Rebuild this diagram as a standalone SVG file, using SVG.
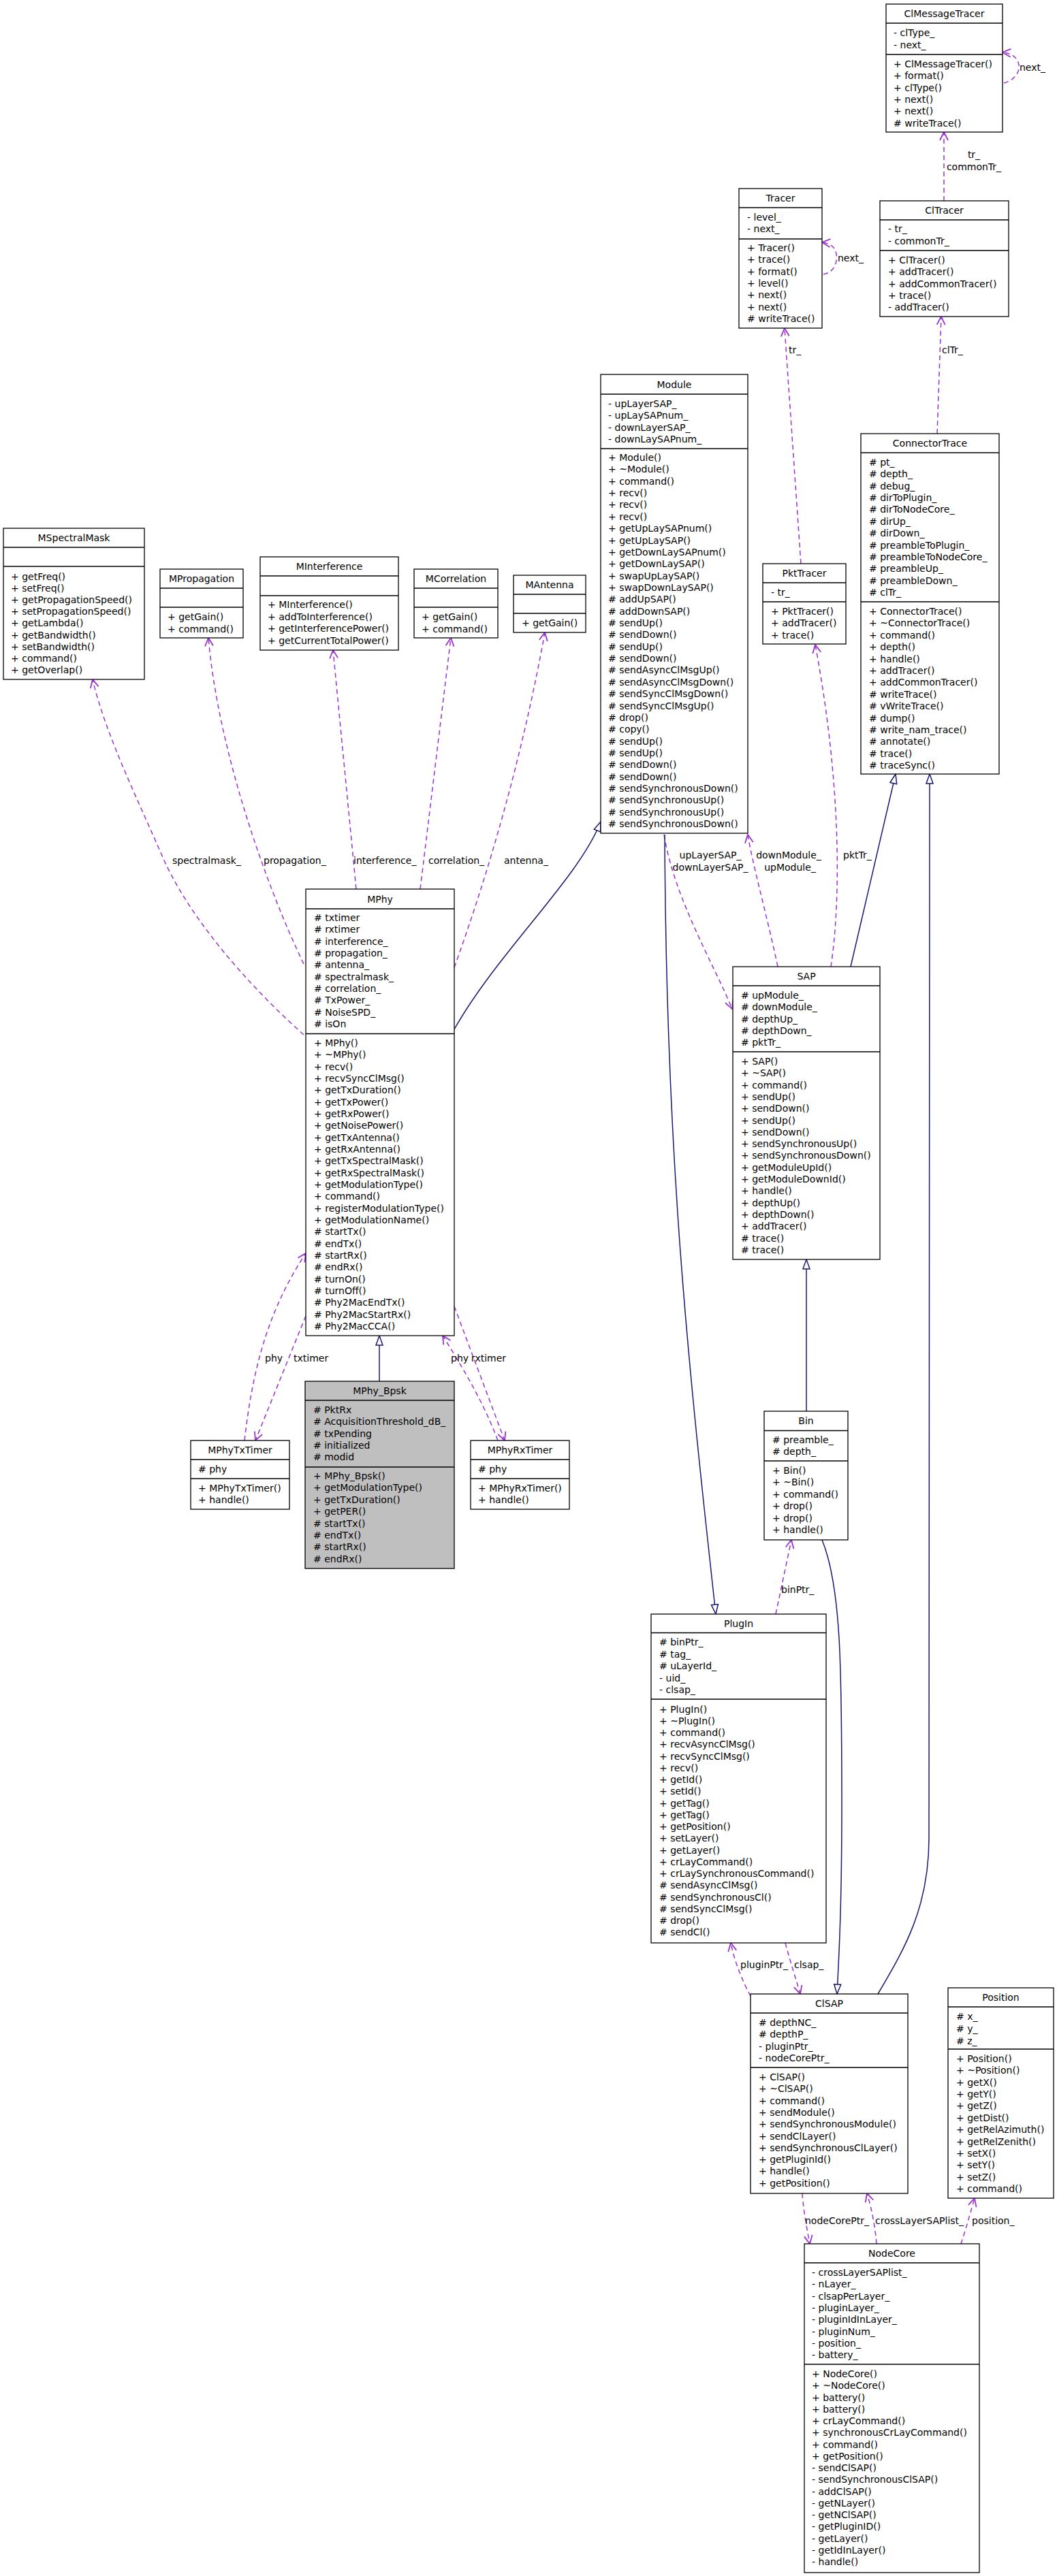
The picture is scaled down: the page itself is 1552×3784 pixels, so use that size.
<svg xmlns="http://www.w3.org/2000/svg" width="1552" height="3784" viewBox="0 0 1552 3784">
<style>
.b{fill:#fff;stroke:#000;stroke-width:1.3}
.g{fill:#bfbfbf;stroke:#000;stroke-width:1.3}
.d{stroke:#000;stroke-width:1.3;fill:none}
text{font-family:"DejaVu Sans",sans-serif;font-size:14px;fill:#000}
.c{text-anchor:middle}
.e{fill:none;stroke:#9a32cd;stroke-width:1.5;stroke-dasharray:7,5;marker-end:url(#v)}
.i{fill:none;stroke:#191970;stroke-width:1.5;marker-end:url(#t)}
</style>
<defs>
<marker id="v" markerUnits="userSpaceOnUse" markerWidth="16" markerHeight="14" refX="13" refY="7" orient="auto"><path d="M1,1 L13,7 L1,13" fill="none" stroke="#9a32cd" stroke-width="1.8"/></marker>
<marker id="t" markerUnits="userSpaceOnUse" markerWidth="18" markerHeight="14" refX="16" refY="7" orient="auto"><path d="M2,2 L16,7 L2,12 Z" fill="#fff" stroke="#191970" stroke-width="1.5"/></marker>
</defs>
<rect width="1552" height="3784" fill="#fff"/>

<g id="edges">
<path class="e" d="M1474,122 C1490,118 1498,105 1496,95 C1494,85 1486,78 1472,77"/>
<path class="e" d="M1386,295 L1386,194"/>
<path class="e" d="M1209,403 C1225,400 1230,385 1228,373 C1226,362 1218,357 1207,356"/>
<path class="e" d="M1176,828 L1152,482"/>
<path class="e" d="M1376,637 L1382,465"/>
<path class="e" d="M446,1520 C390,1470 290,1370 241,1264 C205,1180 155,1080 136,998"/>
<path class="e" d="M446,1416 C390,1300 320,1100 306,937"/>
<path class="e" d="M523,1306 L489,955"/>
<path class="e" d="M617,1306 L662,937"/>
<path class="e" d="M667,1421 C700,1330 760,1150 800,929"/>
<path class="e" d="M975,1226 C990,1320 1050,1420 1075,1482"/>
<path class="e" d="M1142,1420 C1125,1340 1105,1270 1098,1226"/>
<path class="e" d="M1220,1420 C1235,1320 1235,1150 1197,947"/>
<path class="i" d="M1249,1420 L1315,1137"/>
<path class="i" d="M1289,2929 C1330,2860 1364,2800 1364,2700 L1365,1137"/>
<path class="i" d="M667,1512 C730,1400 850,1290 882,1207"/>
<path class="i" d="M557,2029 L557,1962"/>
<path class="e" d="M359,2116 C370,2020 390,1930 449,1841"/>
<path class="e" d="M449,1933 L375,2116"/>
<path class="e" d="M731,2116 C710,2060 680,2010 650,1962"/>
<path class="e" d="M667,1919 L741,2116"/>
<path class="i" d="M1184,2073 L1184,1850"/>
<path class="i" d="M976,1226 C978,1700 1010,2000 1051,2371"/>
<path class="i" d="M1207,2262 C1235,2330 1236,2450 1236,2650 C1236,2800 1232,2870 1229,2929"/>
<path class="e" d="M1139,2371 L1162,2262"/>
<path class="e" d="M1102,2932 C1090,2910 1078,2880 1073,2854"/>
<path class="e" d="M1153,2854 C1160,2880 1168,2905 1175,2929"/>
<path class="e" d="M1178,3222 C1180,3250 1185,3275 1189,3296"/>
<path class="e" d="M1287,3296 C1285,3270 1280,3245 1273,3222"/>
<path class="e" d="M1411,3296 C1418,3275 1425,3250 1431,3229"/>
<text x="1497" y="104">next_</text>
<text class="c" x="1430" y="232">tr_</text>
<text class="c" x="1430" y="250">commonTr_</text>
<text x="1230" y="384">next_</text>
<text x="1158" y="519">tr_</text>
<text x="1383" y="519">clTr_</text>
<text x="253" y="1269">spectralmask_</text>
<text x="387" y="1269">propagation_</text>
<text x="519" y="1269">interference_</text>
<text x="629" y="1269">correlation_</text>
<text x="740" y="1269">antenna_</text>
<text class="c" x="1043" y="1261">upLayerSAP_</text>
<text class="c" x="1043" y="1279">downLayerSAP_</text>
<text class="c" x="1158" y="1261">downModule_</text>
<text class="c" x="1160" y="1279">upModule_</text>
<text x="1238" y="1261">pktTr_</text>
<text x="389" y="2000">phy</text>
<text x="431" y="2000">txtimer</text>
<text x="662" y="2000">phy</text>
<text x="692" y="2000">rxtimer</text>
<text x="1147" y="2340">binPtr_</text>
<text x="1087" y="2891">pluginPtr_</text>
<text x="1166" y="2891">clsap_</text>
<text x="1182" y="3267">nodeCorePtr_</text>
<text x="1285" y="3267">crossLayerSAPlist_</text>
<text x="1427" y="3267">position_</text>
</g>

<g id="ClMessageTracer">
<rect class="b" x="1301" y="6" width="171" height="188"/>
<path class="d" d="M1301,34H1472M1301,80H1472"/>
<text class="c" x="1386.5" y="25">ClMessageTracer</text>
<text x="1312"><tspan x="1312" y="53">- clType_</tspan><tspan x="1312" dy="18">- next_</tspan></text>
<text x="1312"><tspan x="1312" y="99">+ ClMessageTracer()</tspan><tspan x="1312" dy="17.3">+ format()</tspan><tspan x="1312" dy="17.3">+ clType()</tspan><tspan x="1312" dy="17.3">+ next()</tspan><tspan x="1312" dy="17.3">+ next()</tspan><tspan x="1312" dy="17.3"># writeTrace()</tspan></text>
</g>

<g id="Tracer">
<rect class="b" x="1085" y="277" width="122" height="205"/>
<path class="d" d="M1085,305H1207M1085,351H1207"/>
<text class="c" x="1146" y="296">Tracer</text>
<text><tspan x="1097" y="324">- level_</tspan><tspan x="1097" dy="17.3">- next_</tspan></text>
<text><tspan x="1097" y="369">+ Tracer()</tspan><tspan x="1097" dy="17.3">+ trace()</tspan><tspan x="1097" dy="17.3">+ format()</tspan><tspan x="1097" dy="17.3">+ level()</tspan><tspan x="1097" dy="17.3">+ next()</tspan><tspan x="1097" dy="17.3">+ next()</tspan><tspan x="1097" dy="17.3"># writeTrace()</tspan></text>
</g>

<g id="ClTracer">
<rect class="b" x="1292" y="295" width="189" height="170"/>
<path class="d" d="M1292,323H1481M1292,368H1481"/>
<text class="c" x="1386.5" y="314">ClTracer</text>
<text><tspan x="1304" y="341">- tr_</tspan><tspan x="1304" dy="18">- commonTr_</tspan></text>
<text><tspan x="1304" y="387">+ ClTracer()</tspan><tspan x="1304" dy="17.3">+ addTracer()</tspan><tspan x="1304" dy="17.3">+ addCommonTracer()</tspan><tspan x="1304" dy="17.3">+ trace()</tspan><tspan x="1304" dy="17.3">- addTracer()</tspan></text>
</g>

<g id="Module">
<rect class="b" x="882" y="550" width="216" height="674"/>
<path class="d" d="M882,579H1098M882,659H1098"/>
<text class="c" x="990" y="569.5">Module</text>
<text><tspan x="893" y="598">- upLayerSAP_</tspan><tspan x="893" dy="17.35">- upLaySAPnum_</tspan><tspan x="893" dy="17.35">- downLayerSAP_</tspan><tspan x="893" dy="17.35">- downLaySAPnum_</tspan></text>
<text><tspan x="893" y="677">+ Module()</tspan><tspan x="893" dy="17.36">+ ~Module()</tspan><tspan x="893" dy="17.36">+ command()</tspan><tspan x="893" dy="17.36">+ recv()</tspan><tspan x="893" dy="17.36">+ recv()</tspan><tspan x="893" dy="17.36">+ recv()</tspan><tspan x="893" dy="17.36">+ getUpLaySAPnum()</tspan><tspan x="893" dy="17.36">+ getUpLaySAP()</tspan><tspan x="893" dy="17.36">+ getDownLaySAPnum()</tspan><tspan x="893" dy="17.36">+ getDownLaySAP()</tspan><tspan x="893" dy="17.36">+ swapUpLaySAP()</tspan><tspan x="893" dy="17.36">+ swapDownLaySAP()</tspan><tspan x="893" dy="17.36"># addUpSAP()</tspan><tspan x="893" dy="17.36"># addDownSAP()</tspan><tspan x="893" dy="17.36"># sendUp()</tspan><tspan x="893" dy="17.36"># sendDown()</tspan><tspan x="893" dy="17.36"># sendUp()</tspan><tspan x="893" dy="17.36"># sendDown()</tspan><tspan x="893" dy="17.36"># sendAsyncClMsgUp()</tspan><tspan x="893" dy="17.36"># sendAsyncClMsgDown()</tspan><tspan x="893" dy="17.36"># sendSyncClMsgDown()</tspan><tspan x="893" dy="17.36"># sendSyncClMsgUp()</tspan><tspan x="893" dy="17.36"># drop()</tspan><tspan x="893" dy="17.36"># copy()</tspan><tspan x="893" dy="17.36"># sendUp()</tspan><tspan x="893" dy="17.36"># sendUp()</tspan><tspan x="893" dy="17.36"># sendDown()</tspan><tspan x="893" dy="17.36"># sendDown()</tspan><tspan x="893" dy="17.36"># sendSynchronousDown()</tspan><tspan x="893" dy="17.36"># sendSynchronousUp()</tspan><tspan x="893" dy="17.36"># sendSynchronousUp()</tspan><tspan x="893" dy="17.36"># sendSynchronousDown()</tspan></text>
</g>

<g id="ConnectorTrace">
<rect class="b" x="1264" y="637" width="203" height="500"/>
<path class="d" d="M1264,665H1467M1264,884H1467"/>
<text class="c" x="1365.5" y="656">ConnectorTrace</text>
<text><tspan x="1276" y="684"># pt_</tspan><tspan x="1276" dy="17.36"># depth_</tspan><tspan x="1276" dy="17.36"># debug_</tspan><tspan x="1276" dy="17.36"># dirToPlugin_</tspan><tspan x="1276" dy="17.36"># dirToNodeCore_</tspan><tspan x="1276" dy="17.36"># dirUp_</tspan><tspan x="1276" dy="17.36"># dirDown_</tspan><tspan x="1276" dy="17.36"># preambleToPlugin_</tspan><tspan x="1276" dy="17.36"># preambleToNodeCore_</tspan><tspan x="1276" dy="17.36"># preambleUp_</tspan><tspan x="1276" dy="17.36"># preambleDown_</tspan><tspan x="1276" dy="17.36"># clTr_</tspan></text>
<text><tspan x="1276" y="903">+ ConnectorTrace()</tspan><tspan x="1276" dy="17.4">+ ~ConnectorTrace()</tspan><tspan x="1276" dy="17.4">+ command()</tspan><tspan x="1276" dy="17.4">+ depth()</tspan><tspan x="1276" dy="17.4">+ handle()</tspan><tspan x="1276" dy="17.4">+ addTracer()</tspan><tspan x="1276" dy="17.4">+ addCommonTracer()</tspan><tspan x="1276" dy="17.4"># writeTrace()</tspan><tspan x="1276" dy="17.4"># vWriteTrace()</tspan><tspan x="1276" dy="17.4"># dump()</tspan><tspan x="1276" dy="17.4"># write_nam_trace()</tspan><tspan x="1276" dy="17.4"># annotate()</tspan><tspan x="1276" dy="17.4"># trace()</tspan><tspan x="1276" dy="17.4"># traceSync()</tspan></text>
</g>

<g id="PktTracer">
<rect class="b" x="1120" y="828" width="122" height="118"/>
<path class="d" d="M1120,856H1242M1120,884H1242"/>
<text class="c" x="1181" y="847">PktTracer</text>
<text x="1132" y="875">- tr_</text>
<text><tspan x="1132" y="903">+ PktTracer()</tspan><tspan x="1132" dy="17.3">+ addTracer()</tspan><tspan x="1132" dy="17.3">+ trace()</tspan></text>
</g>

<g id="MSpectralMask">
<rect class="b" x="5" y="776" width="207" height="222"/>
<path class="d" d="M5,804H212M5,832H212"/>
<text class="c" x="108.5" y="795">MSpectralMask</text>
<text><tspan x="16" y="852">+ getFreq()</tspan><tspan x="16" dy="17.1">+ setFreq()</tspan><tspan x="16" dy="17.1">+ getPropagationSpeed()</tspan><tspan x="16" dy="17.1">+ setPropagationSpeed()</tspan><tspan x="16" dy="17.1">+ getLambda()</tspan><tspan x="16" dy="17.1">+ getBandwidth()</tspan><tspan x="16" dy="17.1">+ setBandwidth()</tspan><tspan x="16" dy="17.1">+ command()</tspan><tspan x="16" dy="17.1">+ getOverlap()</tspan></text>
</g>

<g id="MPropagation">
<rect class="b" x="235" y="836" width="122" height="101"/>
<path class="d" d="M235,864H357M235,892H357"/>
<text class="c" x="296" y="855">MPropagation</text>
<text><tspan x="246" y="911">+ getGain()</tspan><tspan x="246" dy="17.5">+ command()</tspan></text>
</g>

<g id="MInterference">
<rect class="b" x="382" y="818" width="203" height="137"/>
<path class="d" d="M382,846H585M382,875H585"/>
<text class="c" x="483.5" y="837">MInterference</text>
<text><tspan x="393" y="893">+ MInterference()</tspan><tspan x="393" dy="17.6">+ addToInterference()</tspan><tspan x="393" dy="17.6">+ getInterferencePower()</tspan><tspan x="393" dy="17.6">+ getCurrentTotalPower()</tspan></text>
</g>

<g id="MCorrelation">
<rect class="b" x="608" y="836" width="123" height="101"/>
<path class="d" d="M608,864H731M608,892H731"/>
<text class="c" x="669.5" y="855">MCorrelation</text>
<text><tspan x="619" y="911">+ getGain()</tspan><tspan x="619" dy="17.5">+ command()</tspan></text>
</g>

<g id="MAntenna">
<rect class="b" x="754" y="845" width="106" height="84"/>
<path class="d" d="M754,873H860M754,901H860"/>
<text class="c" x="807" y="864">MAntenna</text>
<text x="766" y="920">+ getGain()</text>
</g>

<g id="MPhy">
<rect class="b" x="449" y="1306" width="218" height="656"/>
<path class="d" d="M449,1335H667M449,1518.5H667"/>
<text class="c" x="558" y="1325.5">MPhy</text>
<text><tspan x="461" y="1353"># txtimer</tspan><tspan x="461" dy="17.33"># rxtimer</tspan><tspan x="461" dy="17.33"># interference_</tspan><tspan x="461" dy="17.33"># propagation_</tspan><tspan x="461" dy="17.33"># antenna_</tspan><tspan x="461" dy="17.33"># spectralmask_</tspan><tspan x="461" dy="17.33"># correlation_</tspan><tspan x="461" dy="17.33"># TxPower_</tspan><tspan x="461" dy="17.33"># NoiseSPD_</tspan><tspan x="461" dy="17.33"># isOn</tspan></text>
<text><tspan x="461" y="1537">+ MPhy()</tspan><tspan x="461" dy="17.33">+ ~MPhy()</tspan><tspan x="461" dy="17.33">+ recv()</tspan><tspan x="461" dy="17.33">+ recvSyncClMsg()</tspan><tspan x="461" dy="17.33">+ getTxDuration()</tspan><tspan x="461" dy="17.33">+ getTxPower()</tspan><tspan x="461" dy="17.33">+ getRxPower()</tspan><tspan x="461" dy="17.33">+ getNoisePower()</tspan><tspan x="461" dy="17.33">+ getTxAntenna()</tspan><tspan x="461" dy="17.33">+ getRxAntenna()</tspan><tspan x="461" dy="17.33">+ getTxSpectralMask()</tspan><tspan x="461" dy="17.33">+ getRxSpectralMask()</tspan><tspan x="461" dy="17.33">+ getModulationType()</tspan><tspan x="461" dy="17.33">+ command()</tspan><tspan x="461" dy="17.33">+ registerModulationType()</tspan><tspan x="461" dy="17.33">+ getModulationName()</tspan><tspan x="461" dy="17.33"># startTx()</tspan><tspan x="461" dy="17.33"># endTx()</tspan><tspan x="461" dy="17.33"># startRx()</tspan><tspan x="461" dy="17.33"># endRx()</tspan><tspan x="461" dy="17.33"># turnOn()</tspan><tspan x="461" dy="17.33"># turnOff()</tspan><tspan x="461" dy="17.33"># Phy2MacEndTx()</tspan><tspan x="461" dy="17.33"># Phy2MacStartRx()</tspan><tspan x="461" dy="17.33"># Phy2MacCCA()</tspan></text>
</g>

<g id="MPhy_Bpsk">
<rect class="g" x="448" y="2029" width="219" height="275"/>
<path class="d" d="M448,2057H667M448,2155H667"/>
<text class="c" x="557.5" y="2048">MPhy_Bpsk</text>
<text><tspan x="460" y="2076"># PktRx</tspan><tspan x="460" dy="17.25"># AcquisitionThreshold_dB_</tspan><tspan x="460" dy="17.25"># txPending</tspan><tspan x="460" dy="17.25"># initialized</tspan><tspan x="460" dy="17.25"># modid</tspan></text>
<text><tspan x="460" y="2173">+ MPhy_Bpsk()</tspan><tspan x="460" dy="17.4">+ getModulationType()</tspan><tspan x="460" dy="17.4">+ getTxDuration()</tspan><tspan x="460" dy="17.4">+ getPER()</tspan><tspan x="460" dy="17.4"># startTx()</tspan><tspan x="460" dy="17.4"># endTx()</tspan><tspan x="460" dy="17.4"># startRx()</tspan><tspan x="460" dy="17.4"># endRx()</tspan></text>
</g>

<g id="MPhyTxTimer">
<rect class="b" x="280" y="2116" width="145" height="101"/>
<path class="d" d="M280,2144H425M280,2172H425"/>
<text class="c" x="352.5" y="2135">MPhyTxTimer</text>
<text x="291" y="2163"># phy</text>
<text><tspan x="291" y="2191">+ MPhyTxTimer()</tspan><tspan x="291" dy="17">+ handle()</tspan></text>
</g>

<g id="MPhyRxTimer">
<rect class="b" x="691" y="2116" width="145" height="101"/>
<path class="d" d="M691,2144H836M691,2172H836"/>
<text class="c" x="763.5" y="2135">MPhyRxTimer</text>
<text x="702" y="2163"># phy</text>
<text><tspan x="702" y="2191">+ MPhyRxTimer()</tspan><tspan x="702" dy="17">+ handle()</tspan></text>
</g>

<g id="SAP">
<rect class="b" x="1076" y="1420" width="216" height="430"/>
<path class="d" d="M1076,1448H1292M1076,1545H1292"/>
<text class="c" x="1184" y="1439">SAP</text>
<text><tspan x="1088" y="1467"># upModule_</tspan><tspan x="1088" dy="17.3"># downModule_</tspan><tspan x="1088" dy="17.3"># depthUp_</tspan><tspan x="1088" dy="17.3"># depthDown_</tspan><tspan x="1088" dy="17.3"># pktTr_</tspan></text>
<text><tspan x="1088" y="1564">+ SAP()</tspan><tspan x="1088" dy="17.3">+ ~SAP()</tspan><tspan x="1088" dy="17.3">+ command()</tspan><tspan x="1088" dy="17.3">+ sendUp()</tspan><tspan x="1088" dy="17.3">+ sendDown()</tspan><tspan x="1088" dy="17.3">+ sendUp()</tspan><tspan x="1088" dy="17.3">+ sendDown()</tspan><tspan x="1088" dy="17.3">+ sendSynchronousUp()</tspan><tspan x="1088" dy="17.3">+ sendSynchronousDown()</tspan><tspan x="1088" dy="17.3">+ getModuleUpId()</tspan><tspan x="1088" dy="17.3">+ getModuleDownId()</tspan><tspan x="1088" dy="17.3">+ handle()</tspan><tspan x="1088" dy="17.3">+ depthUp()</tspan><tspan x="1088" dy="17.3">+ depthDown()</tspan><tspan x="1088" dy="17.3">+ addTracer()</tspan><tspan x="1088" dy="17.3"># trace()</tspan><tspan x="1088" dy="17.3"># trace()</tspan></text>
</g>

<g id="Bin">
<rect class="b" x="1122" y="2073" width="123" height="189"/>
<path class="d" d="M1122,2101.5H1245M1122,2146H1245"/>
<text class="c" x="1183.5" y="2092">Bin</text>
<text><tspan x="1134" y="2120"># preamble_</tspan><tspan x="1134" dy="17"># depth_</tspan></text>
<text><tspan x="1134" y="2165">+ Bin()</tspan><tspan x="1134" dy="17.4">+ ~Bin()</tspan><tspan x="1134" dy="17.4">+ command()</tspan><tspan x="1134" dy="17.4">+ drop()</tspan><tspan x="1134" dy="17.4">+ drop()</tspan><tspan x="1134" dy="17.4">+ handle()</tspan></text>
</g>

<g id="PlugIn">
<rect class="b" x="956" y="2371" width="257" height="483"/>
<path class="d" d="M956,2398.5H1213M956,2496H1213"/>
<text class="c" x="1084.5" y="2390">PlugIn</text>
<text><tspan x="968" y="2417"># binPtr_</tspan><tspan x="968" dy="17.5"># tag_</tspan><tspan x="968" dy="17.5"># uLayerId_</tspan><tspan x="968" dy="17.5">- uid_</tspan><tspan x="968" dy="17.5">- clsap_</tspan></text>
<text><tspan x="968" y="2515.5">+ PlugIn()</tspan><tspan x="968" dy="17.25">+ ~PlugIn()</tspan><tspan x="968" dy="17.25">+ command()</tspan><tspan x="968" dy="17.25">+ recvAsyncClMsg()</tspan><tspan x="968" dy="17.25">+ recvSyncClMsg()</tspan><tspan x="968" dy="17.25">+ recv()</tspan><tspan x="968" dy="17.25">+ getId()</tspan><tspan x="968" dy="17.25">+ setId()</tspan><tspan x="968" dy="17.25">+ getTag()</tspan><tspan x="968" dy="17.25">+ getTag()</tspan><tspan x="968" dy="17.25">+ getPosition()</tspan><tspan x="968" dy="17.25">+ setLayer()</tspan><tspan x="968" dy="17.25">+ getLayer()</tspan><tspan x="968" dy="17.25">+ crLayCommand()</tspan><tspan x="968" dy="17.25">+ crLaySynchronousCommand()</tspan><tspan x="968" dy="17.25"># sendAsyncClMsg()</tspan><tspan x="968" dy="17.25"># sendSynchronousCl()</tspan><tspan x="968" dy="17.25"># sendSyncClMsg()</tspan><tspan x="968" dy="17.25"># drop()</tspan><tspan x="968" dy="17.25"># sendCl()</tspan></text>
</g>

<g id="ClSAP">
<rect class="b" x="1102" y="2929" width="231" height="293"/>
<path class="d" d="M1102,2957H1333M1102,3037H1333"/>
<text class="c" x="1217.5" y="2948">ClSAP</text>
<text><tspan x="1114" y="2976"># depthNC_</tspan><tspan x="1114" dy="17.4"># depthP_</tspan><tspan x="1114" dy="17.4">- pluginPtr_</tspan><tspan x="1114" dy="17.4">- nodeCorePtr_</tspan></text>
<text><tspan x="1114" y="3056">+ ClSAP()</tspan><tspan x="1114" dy="17.3">+ ~ClSAP()</tspan><tspan x="1114" dy="17.3">+ command()</tspan><tspan x="1114" dy="17.3">+ sendModule()</tspan><tspan x="1114" dy="17.3">+ sendSynchronousModule()</tspan><tspan x="1114" dy="17.3">+ sendClLayer()</tspan><tspan x="1114" dy="17.3">+ sendSynchronousClLayer()</tspan><tspan x="1114" dy="17.3">+ getPluginId()</tspan><tspan x="1114" dy="17.3">+ handle()</tspan><tspan x="1114" dy="17.3">+ getPosition()</tspan></text>
</g>

<g id="Position">
<rect class="b" x="1392" y="2920" width="155" height="309"/>
<path class="d" d="M1392,2948H1547M1392,3010H1547"/>
<text class="c" x="1469.5" y="2939">Position</text>
<text><tspan x="1404" y="2967"># x_</tspan><tspan x="1404" dy="18"># y_</tspan><tspan x="1404" dy="18"># z_</tspan></text>
<text><tspan x="1404" y="3029">+ Position()</tspan><tspan x="1404" dy="17.36">+ ~Position()</tspan><tspan x="1404" dy="17.36">+ getX()</tspan><tspan x="1404" dy="17.36">+ getY()</tspan><tspan x="1404" dy="17.36">+ getZ()</tspan><tspan x="1404" dy="17.36">+ getDist()</tspan><tspan x="1404" dy="17.36">+ getRelAzimuth()</tspan><tspan x="1404" dy="17.36">+ getRelZenith()</tspan><tspan x="1404" dy="17.36">+ setX()</tspan><tspan x="1404" dy="17.36">+ setY()</tspan><tspan x="1404" dy="17.36">+ setZ()</tspan><tspan x="1404" dy="17.36">+ command()</tspan></text>
</g>

<g id="NodeCore">
<rect class="b" x="1181" y="3296" width="257" height="483"/>
<path class="d" d="M1181,3324H1438M1181,3473H1438"/>
<text class="c" x="1309.5" y="3315">NodeCore</text>
<text><tspan x="1192" y="3343">- crossLayerSAPlist_</tspan><tspan x="1192" dy="17.3">- nLayer_</tspan><tspan x="1192" dy="17.3">- clsapPerLayer_</tspan><tspan x="1192" dy="17.3">- pluginLayer_</tspan><tspan x="1192" dy="17.3">- pluginIdInLayer_</tspan><tspan x="1192" dy="17.3">- pluginNum_</tspan><tspan x="1192" dy="17.3">- position_</tspan><tspan x="1192" dy="17.3">- battery_</tspan></text>
<text><tspan x="1192" y="3492">+ NodeCore()</tspan><tspan x="1192" dy="17.25">+ ~NodeCore()</tspan><tspan x="1192" dy="17.25">+ battery()</tspan><tspan x="1192" dy="17.25">+ battery()</tspan><tspan x="1192" dy="17.25">+ crLayCommand()</tspan><tspan x="1192" dy="17.25">+ synchronousCrLayCommand()</tspan><tspan x="1192" dy="17.25">+ command()</tspan><tspan x="1192" dy="17.25">+ getPosition()</tspan><tspan x="1192" dy="17.25">- sendClSAP()</tspan><tspan x="1192" dy="17.25">- sendSynchronousClSAP()</tspan><tspan x="1192" dy="17.25">- addClSAP()</tspan><tspan x="1192" dy="17.25">- getNLayer()</tspan><tspan x="1192" dy="17.25">- getNClSAP()</tspan><tspan x="1192" dy="17.25">- getPluginID()</tspan><tspan x="1192" dy="17.25">- getLayer()</tspan><tspan x="1192" dy="17.25">- getIdInLayer()</tspan><tspan x="1192" dy="17.25">- handle()</tspan></text>
</g>
</svg>
